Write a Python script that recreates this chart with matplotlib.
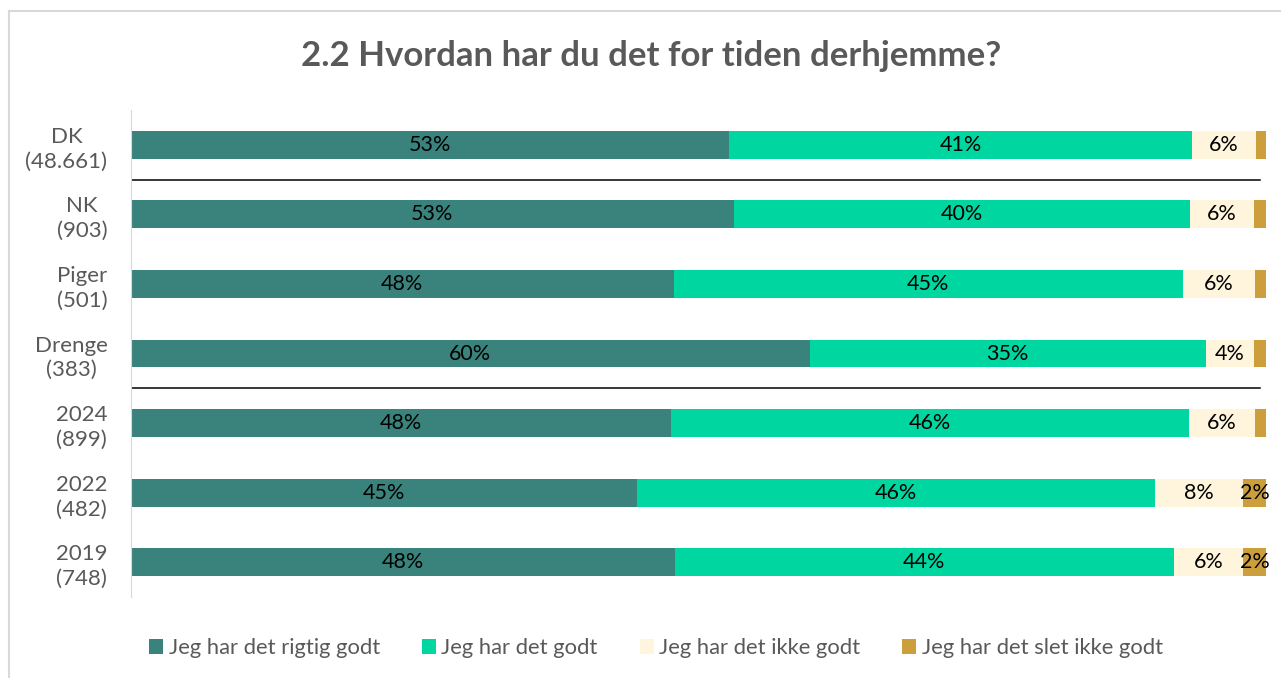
import matplotlib
matplotlib.use("Agg")
import matplotlib.pyplot as plt
from matplotlib.patches import Patch
from matplotlib.lines import Line2D
import numpy as np

categories = ["DK\n(48.661)", "NK\n(903)", "Piger\n(501)", "Drenge\n(383)",
              "2024\n(899)", "2022\n(482)", "2019\n(748)"]
series_names = ["Jeg har det rigtig godt", "Jeg har det godt",
                "Jeg har det ikke godt", "Jeg har det slet ikke godt"]
rigtig_godt = [52.7, 53.1, 47.8, 59.8, 47.6, 44.6, 47.9]
godt =        [40.8, 40.2, 44.9, 34.9, 45.6, 45.6, 44.0]
ikke_godt =   [5.6, 5.6, 6.3, 4.2, 5.8, 7.8, 6.1]
slet_ikke =   [0.9, 1.1, 1.0, 1.1, 1.0, 2.0, 2.0]
title = "2.2 Hvordan har du det for tiden derhjemme?"

colors = ["#3A837D", "#00D6A0", "#FFF5DC", "#CC9F3C"]
series = [rigtig_godt, godt, ikke_godt, slet_ikke]

FONT = ["Lato", "DejaVu Sans"]
plt.rcParams["font.family"] = FONT
GRAY = "#595959"

W, H = 1281, 678
fig = plt.figure(figsize=(W / 100, H / 100), dpi=100)
ax = fig.add_axes([131 / W, 1 - 597 / H, (1266 - 131) / W, (597 - 110) / H])

y = np.arange(len(categories))
left = np.zeros(len(categories))
for vals, col, name in zip(series, colors, series_names):
    vals = np.array(vals)
    ax.barh(y, vals, left=left, height=0.4, color=col, label=name)
    for yi, l, v in zip(y, left, vals):
        pct = int(round(v))
        if pct >= 2:
            ax.text(l + v / 2, yi, f"{pct}%", ha="center", va="center",
                    fontsize=15.5, color="black")
    left += vals

ax.set_xlim(0, 100)
ax.set_ylim(len(categories) - 0.5, -0.5)
ax.set_yticks(y)
ax.set_yticklabels(categories, fontsize=16, color=GRAY, linespacing=1.3)
ax.tick_params(axis="y", length=0, pad=17)
for lab in ax.get_yticklabels():
    lab.set_multialignment("center")
ax.set_xticks([])
for s in ["top", "right", "bottom"]:
    ax.spines[s].set_visible(False)
ax.spines["left"].set_color("#D9D9D9")

for sep in [0.5, 3.5]:
    ax.axhline(sep, xmin=0, xmax=0.995, color="black", lw=1.1)

fig.text(651 / W, 1 - 56 / H, title, ha="center", va="center",
         fontsize=25, fontweight="bold", color=GRAY)

handles = [Patch(facecolor=c, edgecolor="none") for c in colors]
fig.legend(handles, series_names, loc="center", bbox_to_anchor=(656 / W, 1 - 648 / H),
           ncol=4, frameon=False, fontsize=15.8, handlelength=0.65, handleheight=0.65,
           handletextpad=0.25, columnspacing=1.9, labelcolor=GRAY)

# chart border
fig.add_artist(Line2D([9 / W, 9 / W], [0, 1 - 11 / H], color="#D9D9D9", lw=1.5))
fig.add_artist(Line2D([9 / W, 1], [1 - 11 / H, 1 - 11 / H], color="#D9D9D9", lw=1.5))

fig.savefig("out.png", dpi=100)
